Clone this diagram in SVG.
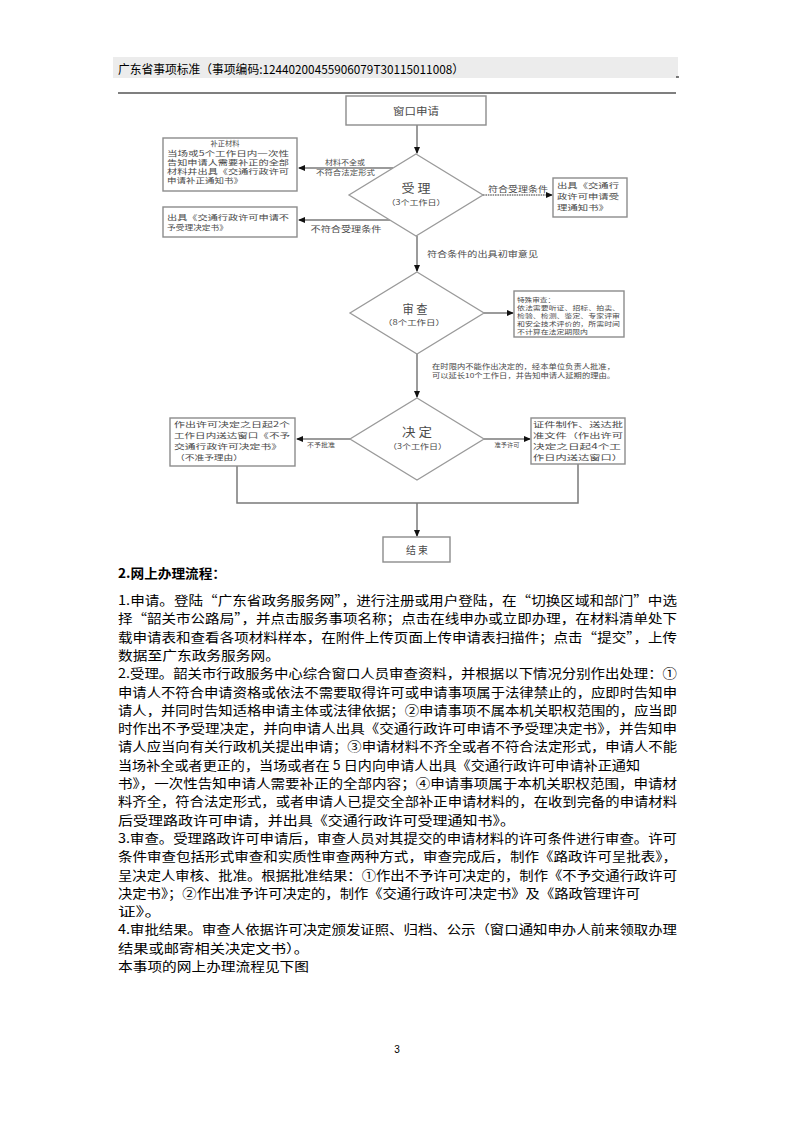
<svg xmlns="http://www.w3.org/2000/svg" width="794" height="1123" viewBox="0 0 794 1123">
<style>
.bg{fill:#ffffff}
.box{fill:#ffffff;stroke:#8c8c8c;stroke-width:1.4}
.dia{fill:#ffffff;stroke:#9a9a9a;stroke-width:1.3}
.ln{fill:none;stroke:#7a7a7a;stroke-width:1.5}
.ft{font-family:"Noto Sans CJK SC","Liberation Sans",sans-serif;fill:#4a4a4a}
.t85{font-size:7.4px}
.t7{font-size:6.8px}
.t65{font-size:5.8px}
.t6{font-size:6px}
.t8{font-size:8px}
.t10{font-size:10px}
.t12{font-size:12px}
.mid{text-anchor:middle}
.body{font-family:"Noto Sans CJK SC","Liberation Sans",sans-serif;font-size:12.6px;fill:#000}
.hdr{font-family:"Noto Sans CJK SC","Liberation Sans",sans-serif;font-size:12px;fill:#000}
</style>
<defs>
<marker id="ah" markerWidth="7" markerHeight="6" refX="6" refY="3" orient="auto" markerUnits="userSpaceOnUse">
<path d="M0,0 L7,3 L0,6 z" fill="#111"/>
</marker>
</defs>
<rect class="bg" x="0" y="0" width="794" height="1123"/>

<g id="header">
<rect x="113" y="57" width="565" height="21" fill="#ececec"/>
<text class="hdr" x="118" y="74" textLength="346" lengthAdjust="spacingAndGlyphs">广东省事项标准（事项编码:12440200455906079T30115011008）</text>
<line x1="676" y1="77" x2="679" y2="77" stroke="#000" stroke-width="1"/>
<line x1="118" y1="93" x2="676" y2="93" stroke="#000" stroke-width="1.2"/>
</g>

<g id="connectors">
<path class="ln" d="M417,125 V153" marker-end="url(#ah)"/>
<path class="ln" d="M393,168 H299" marker-end="url(#ah)"/>
<path class="ln" d="M390,220 H299" marker-end="url(#ah)"/>
<path class="ln" d="M483,195 H552" stroke-dasharray="1.6,0.8" marker-end="url(#ah)"/>
<path class="ln" d="M417,236 V271" marker-end="url(#ah)"/>
<path class="ln" d="M484,313 H513" marker-end="url(#ah)"/>
<path class="ln" d="M417,354 V397" marker-end="url(#ah)"/>
<path class="ln" d="M350,439 H297" marker-end="url(#ah)"/>
<path class="ln" d="M484,439 H530" marker-end="url(#ah)"/>
<path class="ln" d="M237,466 V503 H578 V464"/>
<path class="ln" d="M417,503 V536" marker-end="url(#ah)"/>
<text class="ft t7 mid" x="345" y="165" textLength="40" lengthAdjust="spacingAndGlyphs">材料不全或</text>
<text class="ft t7 mid" x="345.5" y="175" textLength="59" lengthAdjust="spacingAndGlyphs">不符合法定形式</text>
<text class="ft t8 mid" x="346" y="232" textLength="71" lengthAdjust="spacingAndGlyphs">不符合受理条件</text>
<text class="ft t8 mid" x="518" y="192" textLength="60" lengthAdjust="spacingAndGlyphs">符合受理条件</text>
<text class="ft t8" x="427" y="257" textLength="111" lengthAdjust="spacingAndGlyphs">符合条件的出具初审意见</text>
<text class="ft t7" x="432" y="369" textLength="183" lengthAdjust="spacingAndGlyphs">在时限内不能作出决定的，经本单位负责人批准，</text>
<text class="ft t7" x="432" y="378" textLength="183" lengthAdjust="spacingAndGlyphs">可以延长10个工作日，并告知申请人延期的理由。</text>
<text class="ft t6 mid" x="321" y="447" textLength="28" lengthAdjust="spacingAndGlyphs">不予批准</text>
<text class="ft t6 mid" x="507" y="447" textLength="25" lengthAdjust="spacingAndGlyphs">准予许可</text>
</g>

<g id="n-window">
<rect class="box" x="346" y="96" width="140" height="29"/>
<text class="ft t10 mid" x="416" y="115" textLength="46" lengthAdjust="spacingAndGlyphs">窗口申请</text>
</g>

<g id="n-accept">
<polygon class="dia" points="416,154 483,195 416,236 349,195"/>
<text class="ft t12 mid" x="416" y="193" textLength="29" lengthAdjust="spacingAndGlyphs">受 理</text>
<text class="ft t85 mid" x="416" y="205" textLength="59" lengthAdjust="spacingAndGlyphs">（3个工作日）</text>
</g>

<g id="n-supplement">
<rect class="box" x="163" y="138" width="134" height="53"/>
<text class="ft t85 mid" x="225" y="146" textLength="29" lengthAdjust="spacingAndGlyphs">补正材料</text>
<text class="ft t85" x="167" y="155.5" textLength="122" lengthAdjust="spacingAndGlyphs">当场或5个工作日内一次性</text>
<text class="ft t85" x="167" y="164.5" textLength="122" lengthAdjust="spacingAndGlyphs">告知申请人需要补正的全部</text>
<text class="ft t85" x="167" y="173.5" textLength="122" lengthAdjust="spacingAndGlyphs">材料并出具《交通行政许可</text>
<text class="ft t85" x="167" y="182.5" textLength="76" lengthAdjust="spacingAndGlyphs">申请补正通知书》</text>
</g>

<g id="n-reject">
<rect class="box" x="163" y="207" width="134" height="30"/>
<text class="ft t85" x="167" y="220" textLength="122" lengthAdjust="spacingAndGlyphs">出具《交通行政许可申请不</text>
<text class="ft t85" x="167" y="230" textLength="61" lengthAdjust="spacingAndGlyphs">予受理决定书》</text>
</g>

<g id="n-notice">
<rect class="box" x="553" y="178" width="74" height="39"/>
<text class="ft t85" x="557" y="188" textLength="62" lengthAdjust="spacingAndGlyphs">出具《交通行</text>
<text class="ft t85" x="557" y="199" textLength="62" lengthAdjust="spacingAndGlyphs">政许可申请受</text>
<text class="ft t85" x="557" y="210" textLength="52" lengthAdjust="spacingAndGlyphs">理通知书》</text>
</g>

<g id="n-review">
<polygon class="dia" points="417,272 484,313 417,354 350,313"/>
<text class="ft t12 mid" x="415" y="313.5" font-size="11" textLength="25" lengthAdjust="spacingAndGlyphs">审 查</text>
<text class="ft t85 mid" x="414" y="325" textLength="62" lengthAdjust="spacingAndGlyphs">（8个工作日）</text>
</g>

<g id="n-special">
<rect class="box" x="514" y="291" width="110" height="46"/>
<text class="ft t65" x="517" y="301.5" textLength="38" lengthAdjust="spacingAndGlyphs">特殊审查：</text>
<text class="ft t65" x="517" y="309.5" textLength="103" lengthAdjust="spacingAndGlyphs">依法需要听证、招标、拍卖、</text>
<text class="ft t65" x="517" y="317.5" textLength="103" lengthAdjust="spacingAndGlyphs">检验、检测、鉴定、专家评审</text>
<text class="ft t65" x="517" y="325.5" textLength="103" lengthAdjust="spacingAndGlyphs">和安全技术评价的，所需时间</text>
<text class="ft t65" x="517" y="333.5" textLength="71" lengthAdjust="spacingAndGlyphs">不计算在法定期限内</text>
</g>

<g id="n-decide">
<polygon class="dia" points="417,398 484,439 417,480 350,439"/>
<text class="ft t12 mid" x="417" y="437" textLength="30" lengthAdjust="spacingAndGlyphs">决 定</text>
<text class="ft t85 mid" x="417.5" y="448.5" textLength="59" lengthAdjust="spacingAndGlyphs">（3个工作日）</text>
</g>

<g id="n-deny">
<rect class="box" x="170" y="418" width="125" height="48"/>
<text class="ft t85" x="174" y="427" textLength="116" lengthAdjust="spacingAndGlyphs">作出许可决定之日起2个</text>
<text class="ft t85" x="174" y="438" textLength="116" lengthAdjust="spacingAndGlyphs">工作日内送达窗口《不予</text>
<text class="ft t85" x="174" y="449" textLength="108" lengthAdjust="spacingAndGlyphs">交通行政许可决定书》</text>
<text class="ft t85" x="175" y="460" textLength="68" lengthAdjust="spacingAndGlyphs">（不准予理由）</text>
</g>

<g id="n-grant">
<rect class="box" x="531" y="418" width="94" height="46"/>
<text class="ft t85" x="533" y="427" textLength="90" lengthAdjust="spacingAndGlyphs">证件制作、送达批</text>
<text class="ft t85" x="533" y="438" textLength="90" lengthAdjust="spacingAndGlyphs">准文件（作出许可</text>
<text class="ft t85" x="533" y="449" textLength="88" lengthAdjust="spacingAndGlyphs">决定之日起4个工</text>
<text class="ft t85" x="533" y="460" textLength="90" lengthAdjust="spacingAndGlyphs">作日内送达窗口）</text>
</g>

<g id="n-end">
<rect class="box" x="383" y="537" width="67" height="25"/>
<text class="ft t10 mid" x="417" y="554" textLength="22" lengthAdjust="spacingAndGlyphs">结 束</text>
</g>

<g id="body-text">
<text class="body" x="118" y="578" font-weight="bold" font-size="13.5" textLength="108" lengthAdjust="spacingAndGlyphs">2.网上办理流程：</text>
<text class="body" x="118" y="605" textLength="559" lengthAdjust="spacingAndGlyphs">1.申请。登陆“广东省政务服务网”，进行注册或用户登陆，在“切换区域和部门”中选</text>
<text class="body" x="118" y="623.3" textLength="559" lengthAdjust="spacingAndGlyphs">择“韶关市公路局”，并点击服务事项名称；点击在线申办或立即办理，在材料清单处下</text>
<text class="body" x="118" y="641.6" textLength="559" lengthAdjust="spacingAndGlyphs">载申请表和查看各项材料样本，在附件上传页面上传申请表扫描件；点击“提交”，上传</text>
<text class="body" x="118" y="659.9" textLength="162" lengthAdjust="spacingAndGlyphs">数据至广东政务服务网。</text>
<text class="body" x="118" y="678.2" textLength="559" lengthAdjust="spacingAndGlyphs">2.受理。韶关市行政服务中心综合窗口人员审查资料，并根据以下情况分别作出处理：①</text>
<text class="body" x="118" y="696.5" textLength="559" lengthAdjust="spacingAndGlyphs">申请人不符合申请资格或依法不需要取得许可或申请事项属于法律禁止的，应即时告知申</text>
<text class="body" x="118" y="714.8" textLength="559" lengthAdjust="spacingAndGlyphs">请人，并同时告知适格申请主体或法律依据；②申请事项不属本机关职权范围的，应当即</text>
<text class="body" x="118" y="733.1" textLength="559" lengthAdjust="spacingAndGlyphs">时作出不予受理决定，并向申请人出具《交通行政许可申请不予受理决定书》，并告知申</text>
<text class="body" x="118" y="751.4" textLength="559" lengthAdjust="spacingAndGlyphs">请人应当向有关行政机关提出申请；③申请材料不齐全或者不符合法定形式，申请人不能</text>
<text class="body" x="118" y="769.7" textLength="522" lengthAdjust="spacingAndGlyphs">当场补全或者更正的，当场或者在 5 日内向申请人出具《交通行政许可申请补正通知</text>
<text class="body" x="118" y="788" textLength="559" lengthAdjust="spacingAndGlyphs">书》，一次性告知申请人需要补正的全部内容；④申请事项属于本机关职权范围，申请材</text>
<text class="body" x="118" y="806.3" textLength="559" lengthAdjust="spacingAndGlyphs">料齐全，符合法定形式，或者申请人已提交全部补正申请材料的，在收到完备的申请材料</text>
<text class="body" x="118" y="824.6" textLength="397" lengthAdjust="spacingAndGlyphs">后受理路政许可申请，并出具《交通行政许可受理通知书》。</text>
<text class="body" x="118" y="842.9" textLength="559" lengthAdjust="spacingAndGlyphs">3.审查。受理路政许可申请后，审查人员对其提交的申请材料的许可条件进行审查。许可</text>
<text class="body" x="118" y="861.2" textLength="559" lengthAdjust="spacingAndGlyphs">条件审查包括形式审查和实质性审查两种方式，审查完成后，制作《路政许可呈批表》，</text>
<text class="body" x="118" y="879.5" textLength="559" lengthAdjust="spacingAndGlyphs">呈决定人审核、批准。根据批准结果：①作出不予许可决定的，制作《不予交通行政许可</text>
<text class="body" x="118" y="897.8" textLength="522" lengthAdjust="spacingAndGlyphs">决定书》；②作出准予许可决定的，制作《交通行政许可决定书》及《路政管理许可</text>
<text class="body" x="118" y="916.1" textLength="44" lengthAdjust="spacingAndGlyphs">证》。</text>
<text class="body" x="118" y="934.4" textLength="559" lengthAdjust="spacingAndGlyphs">4.审批结果。审查人依据许可决定颁发证照、归档、公示（窗口通知申办人前来领取办理</text>
<text class="body" x="118" y="952.7" textLength="191" lengthAdjust="spacingAndGlyphs">结果或邮寄相关决定文书）。</text>
<text class="body" x="118" y="971" textLength="191" lengthAdjust="spacingAndGlyphs">本事项的网上办理流程见下图</text>
</g>

<g id="page-number">
<text x="397" y="1053" font-family="Liberation Sans, sans-serif" font-size="10" fill="#000" text-anchor="middle">3</text>
</g>
</svg>
